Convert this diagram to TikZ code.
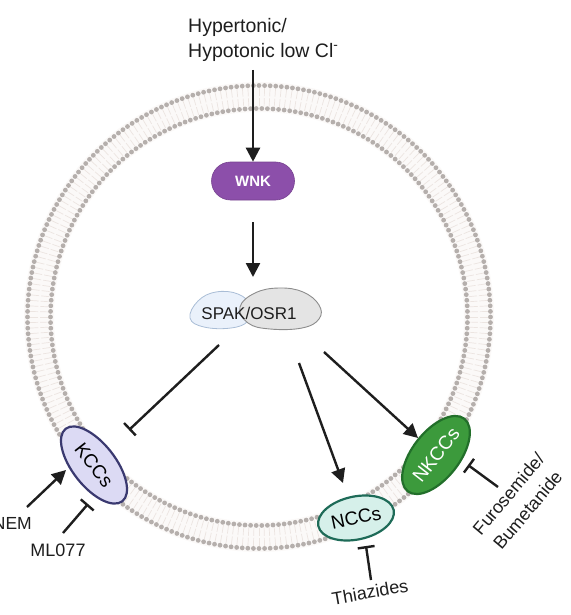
\documentclass[tikz,border=0pt]{standalone}
\usepackage{fontspec}
\setmainfont{Liberation Sans}
\usetikzlibrary{arrows.meta,shapes.geometric}
\definecolor{lipid}{HTML}{B5AFAC}
\definecolor{tailc}{HTML}{ECE5E1}
\definecolor{memfill}{HTML}{FBF9F8}
\definecolor{ink}{HTML}{1E1E1E}
\definecolor{wnkc}{HTML}{8C4FAA}
\definecolor{kccfill}{HTML}{DCDAF4}
\definecolor{kccdraw}{HTML}{3A3970}
\definecolor{nccfill}{HTML}{D6F0EA}
\definecolor{nccdraw}{HTML}{1E6B58}
\definecolor{nkccfill}{HTML}{3C9A3C}
\definecolor{nkccdraw}{HTML}{226F2A}
\definecolor{spakblue}{HTML}{EAF1FB}
\definecolor{spakbluedraw}{HTML}{A9BDD6}
\definecolor{spakgray}{HTML}{E4E4E4}
\definecolor{spakgraydraw}{HTML}{8C8C8C}
\tikzset{
  lbl/.style={font=\fontsize{18}{25}\selectfont, text=ink, inner sep=0pt},
  act/.style={draw=ink, line width=2.4pt, -{Triangle[length=14pt,width=14pt]}},
  inh/.style={draw=ink, line width=2.4pt, -{Bar[width=17pt,line width=2.4pt]}},
  chan/.style={ellipse, draw, line width=2.2pt, inner sep=0pt, font=\fontsize{19}{22}\selectfont},
}
\begin{document}
\begin{tikzpicture}[x=1pt,y=-1pt]
\useasboundingbox (0,0) rectangle (570,615);
% membrane
\fill[memfill, even odd rule] (259,317) circle[radius=235pt] (259,317) circle[radius=205pt];
\foreach \i in {0,...,259}{
  \pgfmathsetmacro\ang{\i*1.384615}
  \draw[tailc, line width=0.7pt] ({259+211*cos(\ang)},{317+211*sin(\ang)}) -- ({259+219*cos(\ang)},{317+219*sin(\ang)});
  \draw[tailc, line width=0.7pt] ({259+221*cos(\ang)},{317+221*sin(\ang)}) -- ({259+229*cos(\ang)},{317+229*sin(\ang)});
  \fill[lipid] ({259+231.5*cos(\ang)},{317+231.5*sin(\ang)}) circle[radius=2.4pt];
}
\foreach \i in {0,...,233}{
  \pgfmathsetmacro\ang{\i*1.538462}
  \fill[lipid] ({259+208.5*cos(\ang)},{317+208.5*sin(\ang)}) circle[radius=2.4pt];
}
% stimulus text
\node[lbl, font=\fontsize{19.5}{25}\selectfont, align=left, anchor=north west] (hyper) at (188,18) {Hypertonic/\\Hypotonic low Cl\textsuperscript{-}};
% WNK
\node[rounded corners=19pt, fill=wnkc, draw=wnkc!85!black, line width=0.6pt, minimum width=83pt, minimum height=38pt,
      text=white, font=\fontsize{15}{16}\bfseries\selectfont] (wnk) at (253,181) {WNK};
% SPAK/OSR1 blobs
\draw[fill=spakblue, draw=spakbluedraw, line width=0.8pt] plot[smooth cycle, tension=0.7] coordinates
  {(190,318) (198,301) (216,292) (238,294) (251,306) (248,321) (231,328) (204,327)};
\draw[fill=spakgray, draw=spakgraydraw, line width=0.9pt] plot[smooth cycle, tension=0.7] coordinates
  {(240,307) (255,293) (279,288) (303,292) (319,305) (319,319) (302,328) (270,329) (248,323)};
\node[font=\fontsize{17}{18}\selectfont, text=ink, inner sep=0pt] (spak) at (249,313) {SPAK/OSR1};
% channels
\node[chan, fill=kccfill, draw=kccdraw, minimum width=92pt, minimum height=43pt, rotate=-52] (kcc) at (94,465) {KCCs};
\node[chan, fill=nccfill, draw=nccdraw, minimum width=77pt, minimum height=43pt, rotate=12] (ncc) at (356,518) {NCCs};
\node[chan, fill=nkccfill, draw=nkccdraw, minimum width=92pt, minimum height=47pt, rotate=52, text=white] (nkcc) at (436,455) {NKCCs};
% drug labels
\node[lbl, font=\fontsize{17.5}{20}\selectfont, anchor=base east] (nem) at (32,529) {NEM};
\node[lbl] (ml) at (58,550) {ML077};
\node[lbl, rotate=10] (thia) at (370,592) {Thiazides};
\node[lbl, align=center, rotate=50] (furo) at (518,502) {Furosemide/\\Bumetanide};
% coordinates for connector ends
\coordinate (h0) at (253,70);
\coordinate (w0) at (253,222);
\coordinate (w1) at (253,277);
\coordinate (s1) at (219,345);
\coordinate (s1e) at (129,430);
\coordinate (s2) at (299,363);
\coordinate (s2e) at (343,483);
\coordinate (s3) at (324,352);
\coordinate (s3e) at (418,438);
\coordinate (n0) at (27,507);
\coordinate (n0e) at (66,470);
\coordinate (m0) at (63,533);
\coordinate (m0e) at (88,504);
\coordinate (t0) at (371,580);
\coordinate (t0e) at (366,546);
\coordinate (f0) at (498,487);
\coordinate (f0e) at (468,465);
% connectors
\draw[act] (h0) -- (wnk.north);
\draw[act] (w0) -- (w1);
\draw[inh] (s1) -- (s1e);
\draw[act] (s2) -- (s2e);
\draw[act] (s3) -- (s3e);
\draw[act] (n0) -- (n0e);
\draw[inh] (m0) -- (m0e);
\draw[inh] (t0) -- (t0e);
\draw[inh] (f0) -- (f0e);
\end{tikzpicture}
\end{document}
